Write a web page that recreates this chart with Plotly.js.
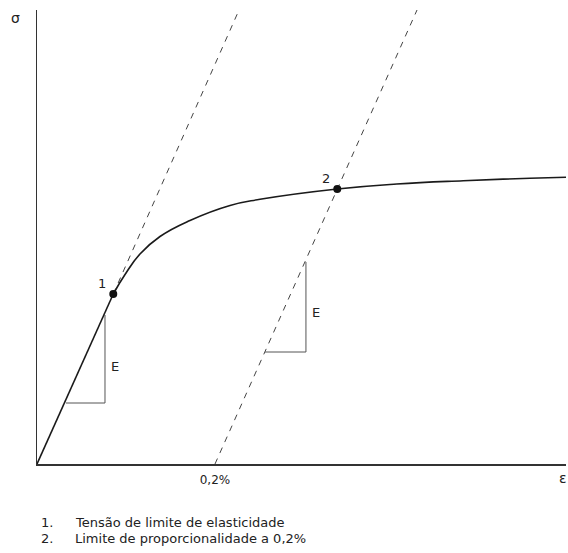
<!DOCTYPE html>
<html>
<head>
<meta charset="utf-8">
<script src="https://cdn.plot.ly/plotly-3.0.1.min.js"></script>
<style>
  html, body { margin: 0; padding: 0; background: #fff; }
  #chart { width: 568px; height: 553px; }
</style>
</head>
<body>
<div id="chart"></div>
<script>
// Stress-strain curve (strain in %, stress in MPa)
const elasticStrain = [0, 0.0857];
const elasticStress = [0, 170];

const plasticStrain = [0.0857, 0.0989, 0.1157, 0.1382, 0.1719, 0.2169, 0.2506, 0.3374, 0.4042, 0.4790, 0.5539, 0.5944];
const plasticStress = [170, 189.5, 210, 227.5, 243.5, 258.5, 264.7, 275, 280, 283.3, 285.7, 286.7];

// Lines of slope E: through the origin, and offset by 0.2 % strain
const modulusLineStrain = [0.0857, 0.228];
const modulusLineStress = [170, 456];
const offsetLineStrain = [0.2, 0.428];
const offsetLineStress = [0, 456];

// Slope triangles marking E
const triangle1Strain = [0.0326, 0.0764, 0.0764];
const triangle1Stress = [61, 61, 149];
const triangle2Strain = [0.2562, 0.3022, 0.3022];
const triangle2Stress = [112, 112, 202];

// Characteristic points
const pointStrain = [0.0857, 0.3374];
const pointStress = [170, 275];
const pointLabels = ['1', '2'];

// Axis tick and key texts
const tickValues = [0.2];
const tickLabels = ['0,2%'];
const keyNumbers = ['1.', '2.'];
const keyTexts = ['Tensão de limite de elasticidade', 'Limite de proporcionalidade a 0,2%'];

const FONT = 'DejaVu Sans, sans-serif';
const TXT = '#222';
const dashStyle = {color: '#444', width: 1, dash: '6px,6px'};
const triStyle = {color: '#555', width: 1};
const curveStyle = {color: '#1a1a1a', width: 1.6};

const traces = [
  {x: modulusLineStrain, y: modulusLineStress, mode: 'lines', line: dashStyle},
  {x: offsetLineStrain, y: offsetLineStress, mode: 'lines', line: dashStyle},
  {x: triangle1Strain, y: triangle1Stress, mode: 'lines', line: triStyle},
  {x: triangle2Strain, y: triangle2Stress, mode: 'lines', line: triStyle},
  {x: elasticStrain, y: elasticStress, mode: 'lines', line: curveStyle},
  {x: plasticStrain, y: plasticStress, mode: 'lines', line: Object.assign({shape: 'spline', smoothing: 1.3}, curveStyle)},
  {x: pointStrain, y: pointStress, mode: 'markers', marker: {color: '#111', size: 8}}
];

const annotations = [];
pointLabels.forEach((t, i) => {
  annotations.push({x: pointStrain[i], y: pointStress[i], xref: 'x', yref: 'y', text: t,
    showarrow: false, xanchor: 'center', yanchor: 'middle', xshift: -11, yshift: 11,
    font: {family: FONT, size: 13, color: TXT}});
});
// "E" beside the vertical leg of each slope triangle
[[triangle1Strain, triangle1Stress, -7], [triangle2Strain, triangle2Stress, -5]].forEach(([sx, sy, dy]) => {
  annotations.push({x: sx[2], y: (sy[0] + sy[2]) / 2, xref: 'x', yref: 'y', text: 'E', showarrow: false,
    xanchor: 'left', yanchor: 'middle', xshift: 4, yshift: dy, font: {family: FONT, size: 13, color: TXT}});
});
// axis symbols
annotations.push({x: -0.0397, y: 0.982, xref: 'paper', yref: 'paper', text: 'σ', showarrow: false,
  xanchor: 'center', yanchor: 'middle', font: {family: FONT, size: 14, color: TXT}});
annotations.push({x: 0.994, y: -0.031, xref: 'paper', yref: 'paper', text: 'ε', showarrow: false,
  xanchor: 'center', yanchor: 'middle', font: {family: FONT, size: 14, color: TXT}});
// numbered key below the chart
keyNumbers.forEach((n, i) => {
  const yy = -0.1278 - i * 0.0352;
  annotations.push({x: 0.0038, y: yy, xref: 'paper', yref: 'paper', text: n, showarrow: false,
    xanchor: 'left', yanchor: 'middle', font: {family: FONT, size: 13, color: TXT}});
  annotations.push({x: 0.068, y: yy, xref: 'paper', yref: 'paper', text: keyTexts[i], showarrow: false,
    xanchor: 'left', yanchor: 'middle', font: {family: FONT, size: 13, color: TXT}});
});

const layout = {
  width: 568, height: 553,
  margin: {l: 37, r: 2, t: 10, b: 89},
  paper_bgcolor: '#fff', plot_bgcolor: '#fff',
  showlegend: false,
  xaxis: {range: [0, 0.5944], showgrid: false, zeroline: false, showline: true, linecolor: '#333', linewidth: 1.5,
    tickvals: tickValues, ticktext: tickLabels, ticks: '', ticklabelstandoff: 4,
    tickfont: {family: FONT, size: 12, color: TXT}, fixedrange: true},
  yaxis: {range: [0, 454], showgrid: false, zeroline: false, showline: true, linecolor: '#333', linewidth: 1.5,
    showticklabels: false, ticks: '', fixedrange: true},
  annotations: annotations
};

Plotly.newPlot('chart', traces, layout, {displayModeBar: false, staticPlot: true});
</script>
</body>
</html>
